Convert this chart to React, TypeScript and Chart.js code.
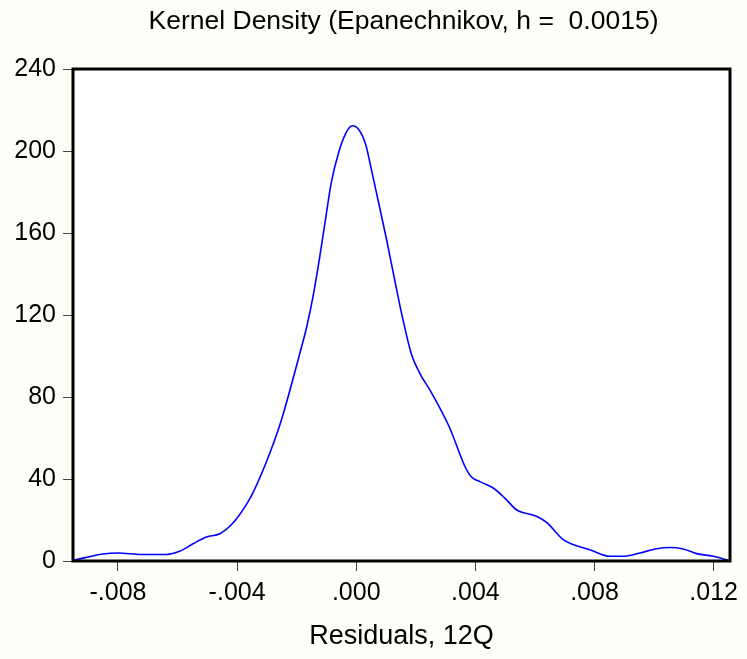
import React, { useEffect, useRef } from "react";
import { Chart, registerables } from "chart.js";

Chart.register(...registerables);

const titleText = "Kernel Density (Epanechnikov, h =  0.0015)";
const xAxisTitle = "Residuals, 12Q";

const residuals = [
  -0.00951, -0.0085, -0.008, -0.00721, -0.00637, -0.00593, -0.00548, -0.00503,
  -0.00458, -0.00414, -0.00369, -0.00347, -0.0029, -0.00251, -0.00189, -0.00166,
  -0.00145, -0.00124, -0.00105, -0.00083, -0.00058, -0.00036, -0.00013, 0.00009,
  0.00032, 0.00051, 0.00073, 0.00102, 0.00129, 0.00157, 0.00186, 0.00213,
  0.00253, 0.00314, 0.00365, 0.00387, 0.00415, 0.0046, 0.00499, 0.00538,
  0.00605, 0.00639, 0.00695, 0.00728, 0.00784, 0.00852, 0.00896, 0.00952,
  0.01009, 0.01053, 0.01098, 0.01143, 0.01199, 0.0125,
];
const density = [
  0.3, 3.4, 3.9, 3.2, 3.2, 4.7, 8.4, 11.7,
  13.3, 18.5, 27.5, 33.2, 52.7, 68.9, 101.5, 114.4,
  129.1, 147, 164.9, 185.2, 199.8, 208.4, 212.3, 210.4,
  203.1, 190.9, 176.2, 156.7, 137.2, 117.7, 100.6, 91.7,
  82, 64.9, 46.1, 41, 38.7, 35.6, 30.7, 25,
  21.8, 18.8, 10.4, 8, 5.5, 2.3, 2.3, 3.9,
  6, 6.6, 5.9, 3.6, 2.3, 0.3,
];
const xTicks = [-0.008, -0.004, 0, 0.004, 0.008, 0.012];
const yTicks = [0, 40, 80, 120, 160, 200, 240];
const xMin = -0.00951;
const xMax = 0.01255;

const FONT = "'Liberation Sans', Arial, sans-serif";

const framePlugin = {
  id: "frame",
  beforeDraw(chart: any) {
    const { ctx, chartArea, width, height } = chart;
    ctx.save();
    ctx.fillStyle = "#fefef8";
    ctx.fillRect(0, 0, width, height);
    ctx.fillStyle = "#ffffff";
    ctx.fillRect(chartArea.left, chartArea.top, chartArea.right - chartArea.left, chartArea.bottom - chartArea.top);
    ctx.restore();
  },
  afterDatasetsDraw(chart: any) {
    const { ctx, chartArea } = chart;
    ctx.save();
    ctx.strokeStyle = "#000";
    ctx.lineWidth = 3;
    ctx.strokeRect(chartArea.left, chartArea.top, chartArea.right - chartArea.left, chartArea.bottom - chartArea.top);
    ctx.fillStyle = "#000";
    ctx.font = `26.5px ${FONT}`;
    ctx.textAlign = "center";
    ctx.textBaseline = "alphabetic";
    ctx.fillText(titleText, (chartArea.left + chartArea.right) / 2 + 2, 28.5);
    ctx.restore();
  },
};

export default function App() {
  const ref = useRef<HTMLCanvasElement>(null);
  useEffect(() => {
    if (!ref.current) return;
    const chart = new Chart(ref.current, {
      type: "line",
      data: {
        datasets: [
          {
            data: residuals.map((x, i) => ({ x, y: density[i] })),
            borderColor: "#0000ff",
            borderWidth: 1.6,
            pointRadius: 0,
            cubicInterpolationMode: "monotone",
            fill: false,
          },
        ],
      },
      options: {
        animation: false,
        responsive: false,
        events: [],
        layout: { padding: { left: 0, right: 17, top: 69, bottom: 0 } },
        plugins: {
          legend: { display: false },
          tooltip: { enabled: false },
          title: { display: false },
        },
        scales: {
          x: {
            type: "linear",
            min: xMin,
            max: xMax,
            afterBuildTicks: (s: any) => {
              s.ticks = xTicks.map((v) => ({ value: v }));
            },
            afterFit: (s: any) => {
              s.height = 98;
            },
            ticks: {
              color: "#000",
              font: { family: FONT, size: 25 },
              padding: 7,
              maxRotation: 0,
              autoSkip: false,
              callback: (v: any) => Number(v).toFixed(3).replace("0.", "."),
            },
            grid: { drawOnChartArea: false, drawTicks: true, tickLength: 10, color: "#444" },
            border: { display: false },
            title: {
              display: true,
              text: xAxisTitle,
              color: "#000",
              font: { family: FONT, size: 27 },
              padding: { top: 0, bottom: 6 },
            },
          },
          y: {
            type: "linear",
            min: 0,
            max: 240,
            afterBuildTicks: (s: any) => {
              s.ticks = yTicks.map((v) => ({ value: v }));
            },
            afterFit: (s: any) => {
              s.width = 73;
            },
            ticks: {
              color: "#000",
              font: { family: FONT, size: 25 },
              padding: 7,
              autoSkip: false,
            },
            grid: { drawOnChartArea: false, drawTicks: true, tickLength: 10, color: "#444" },
            border: { display: false },
          },
        },
      },
      plugins: [framePlugin],
    } as any);
    return () => chart.destroy();
  }, []);
  return (
    <div style={{ position: "absolute", left: 0, top: 0, width: 747, height: 659 }}>
      <canvas ref={ref} width={747} height={659} />
    </div>
  );
}
